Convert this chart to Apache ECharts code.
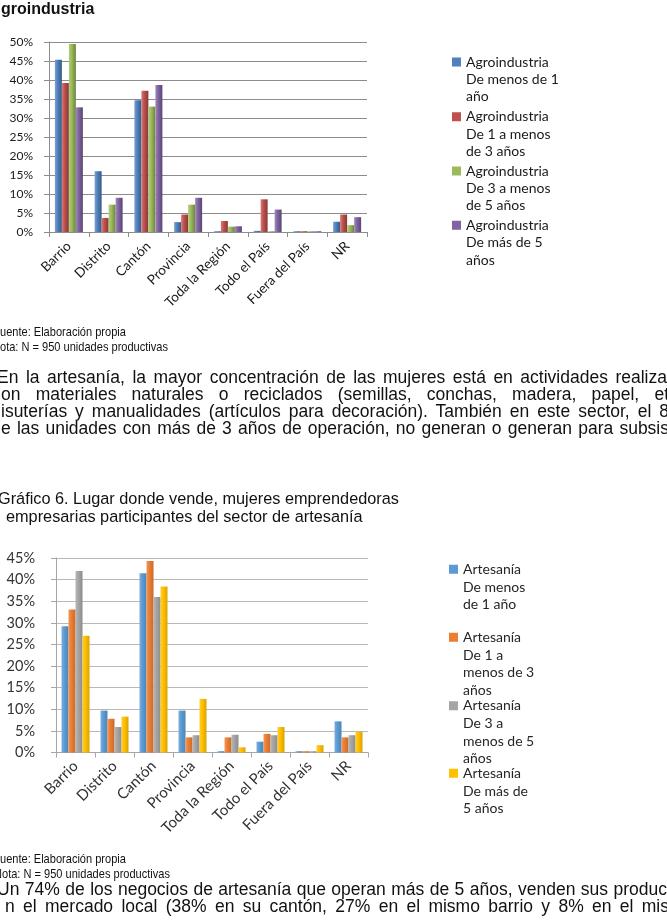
<!DOCTYPE html>
<html><head><meta charset="utf-8">
<script src="https://cdn.jsdelivr.net/npm/echarts@6/dist/echarts.min.js"></script>
<style>
html,body{margin:0;padding:0;background:#fff;width:667px;height:923px;overflow:hidden;position:relative}
#chart{position:absolute;left:0;top:0;width:667px;height:923px}
.t{position:absolute;white-space:nowrap;color:#111;font-family:'Liberation Sans',Arial,sans-serif}
.j{text-align:justify;text-align-last:justify}
.n{font-size:13px;line-height:15px;transform:scaleX(0.85);transform-origin:0 0}
.p{font-size:17.5px;line-height:17px}
.g{font-size:16.3px;line-height:18px}
</style></head><body>
<div id="chart"></div>
<div class="t" style="left:1px;top:0px;font-weight:bold;font-size:16px;line-height:18px">groindustria</div>
<div class="t n" style="left:0px;top:323.5px">uente: Elaboración propia</div>
<div class="t n" style="left:0px;top:339px">ota: N = 950 unidades productivas</div>
<div class="t p j" style="left:-3px;top:368.5px;width:670px">En la artesanía, la mayor concentración de las mujeres está en actividades realiza</div>
<div class="t p j" style="left:1px;top:385.5px;width:668px">on materiales naturales o reciclados (semillas, conchas, madera, papel, et</div>
<div class="t p j" style="left:1px;top:402.5px;width:668px">isuterías y manualidades (artículos para decoración). También en este sector, el 8</div>
<div class="t p j" style="left:1px;top:419.5px;width:668px">e las unidades con más de 3 años de operación, no generan o generan para subsis</div>
<div class="t g" style="left:-2px;top:489px">Gráfico 6. Lugar donde vende, mujeres emprendedoras</div>
<div class="t g" style="left:6px;top:507px">empresarias participantes del sector de artesanía</div>
<div class="t n" style="left:0px;top:850.5px">uente: Elaboración propia</div>
<div class="t n" style="left:-6px;top:865.5px">Nota: N = 950 unidades productivas</div>
<div class="t p j" style="left:-3px;top:880.5px;width:670px">Un 74% de los negocios de artesanía que operan más de 5 años, venden sus produc</div>
<div class="t p j" style="left:5px;top:897.5px;width:664px">n el mercado local (38% en su cantón, 27% en el mismo barrio y 8% en el mis</div>
<script>
// ---- data ----
const categories = ['Barrio','Distrito','Cantón','Provincia','Toda la Región','Todo el País','Fuera del País','NR'];
const yTicks1 = {min: 0, max: 50, interval: 5};
const yTicks2 = {min: 0, max: 45, interval: 5};

const agroNames = ['Agroindustria\nDe menos de 1\naño','Agroindustria\nDe 1 a menos\nde 3 años','Agroindustria\nDe 3 a menos\nde 5 años','Agroindustria\nDe más de 5\naños'];
const agroMenos1 = [45.3, 16.0, 34.7, 2.6, 0.2, 0.3, 0.2, 2.7];
const agro1a3    = [39.2, 3.7, 37.2, 4.6, 2.9, 8.6, 0.2, 4.6];
const agro3a5    = [49.5, 7.2, 33.0, 7.2, 1.4, 0.2, 0.2, 1.8];
const agroMas5   = [32.8, 9.0, 38.7, 9.0, 1.5, 5.9, 0.2, 3.9];

const artNames = ['Artesanía\nDe menos\nde 1 año','Artesanía\nDe 1 a\nmenos de 3\naños','Artesanía\nDe 3 a\nmenos de 5\naños','Artesanía\nDe más de\n5 años'];
const artMenos1 = [29.2, 9.7, 41.5, 9.7, 0.3, 2.5, 0.3, 7.2];
const art1a3    = [33.1, 7.8, 44.3, 3.5, 3.5, 4.3, 0.3, 3.5];
const art3a5    = [42.0, 5.9, 36.0, 4.0, 4.1, 4.0, 0.3, 4.0];
const artMas5   = [27.0, 8.3, 38.4, 12.4, 1.2, 5.9, 1.7, 4.8];

// ---- styles ----
const agroColors = ['#4F81BD','#C0504D','#9BBB59','#8064A2'];
const artColors  = ['#5B9BD5','#ED7D31','#A5A5A5','#FFC000'];

function mix(hex, target, t){
  const n = parseInt(hex.slice(1),16);
  const r=(n>>16)&255,g=(n>>8)&255,b=n&255;
  const f=c=>Math.round(c+(target-c)*t);
  return 'rgb('+f(r)+','+f(g)+','+f(b)+')';
}
function grad(hex, lt, dk){
  return new echarts.graphic.LinearGradient(0,0,1,0,[
    {offset:0,color:mix(hex,255,lt)},
    {offset:0.4,color:hex},
    {offset:1,color:mix(hex,0,dk)}
  ]);
}
const chartFont = 'Lato, "Open Sans", sans-serif';

function legendFor(name, color, lines, L, firstCenter, left, fs, tc){
  const H = lines*L;
  const s0 = L/2 - 4.5, s1 = s0 + 9;
  return {
    data:[name], orient:'vertical', left:left, top:firstCenter - L/2, padding:0,
    itemWidth:9, itemHeight:H, itemGap:0, selectedMode:false,
    icon:'path://M0,0L0.001,0ZM0,'+s0+'H9V'+s1+'H0ZM0,'+H+'L0.001,'+H+'Z',
    itemStyle:{color:color, borderWidth:0},
    textStyle:{fontFamily:chartFont, fontSize:fs, lineHeight:L, color:tc}
  };
}

const agroData = [agroMenos1, agro1a3, agro3a5, agroMas5];
const artData = [artMenos1, art1a3, art3a5, artMas5];
const series = [];
agroData.forEach((d,i)=>series.push({
  type:'bar', name:agroNames[i], xAxisIndex:0, yAxisIndex:0, data:d,
  barWidth:7, barGap:'0%', itemStyle:{color:grad(agroColors[i],0.25,0.3)}
}));
artData.forEach((d,i)=>series.push({
  type:'bar', name:artNames[i], xAxisIndex:1, yAxisIndex:1, data:d,
  barWidth:7, barGap:'0%', itemStyle:{color:grad(artColors[i],0.2,0.15)}
}));

const agroFirst = [62, 116.7, 171, 225.3];
const artFirst = [569.3, 637.3, 705.7, 773.3];
const artLines = [3,4,4,3];
const legends = [];
agroNames.forEach((n,i)=>legends.push(legendFor(n, agroColors[i], 3, 17.4, agroFirst[i], 452, 14, '#1a1a1a')));
artNames.forEach((n,i)=>legends.push(legendFor(n, artColors[i], artLines[i], 17.7, artFirst[i], 449, 14, '#262626')));

function xAx(gi, fs, col, lc, margin){
  return {type:'category', gridIndex:gi, data:categories,
    axisLine:{show:true, lineStyle:{color:lc}},
    axisTick:{show:true, length:5, interval:0, lineStyle:{color:lc}},
    axisLabel:{rotate:45, interval:0, fontFamily:chartFont, fontSize:fs, color:col, margin:margin},
    splitLine:{show:false}};
}
function yAx(gi, t, fs, col, lc, sc, margin){
  return {type:'value', gridIndex:gi, min:t.min, max:t.max, interval:t.interval,
    axisLine:{show:true, lineStyle:{color:lc}},
    axisTick:{show:true, length:5, lineStyle:{color:lc}},
    axisLabel:{formatter:'{value}%', fontFamily:chartFont, fontSize:fs, color:col, margin:margin},
    splitLine:{show:true, lineStyle:{color:sc, width:1}}};
}

const chart = echarts.init(document.getElementById('chart'), null, {renderer:'canvas'});
chart.setOption({
  animation:false,
  backgroundColor:'transparent',
  grid:[
    {left:49, top:42, width:318, height:190, outerBoundsMode:'none', containLabel:false},
    {left:56, top:558, width:312, height:194.5, outerBoundsMode:'none', containLabel:false}
  ],
  xAxis:[xAx(0,13.5,'#1a1a1a','#8c8c8c',12), xAx(1,15,'#333','#a6a6a6',11)],
  yAxis:[yAx(0,yTicks1,12,'#1a1a1a','#8c8c8c','#8c8c8c',16), yAx(1,yTicks2,14.5,'#333','#a6a6a6','#b8b8b8',21)],
  legend:legends,
  series:series
});
</script>
</body></html>
